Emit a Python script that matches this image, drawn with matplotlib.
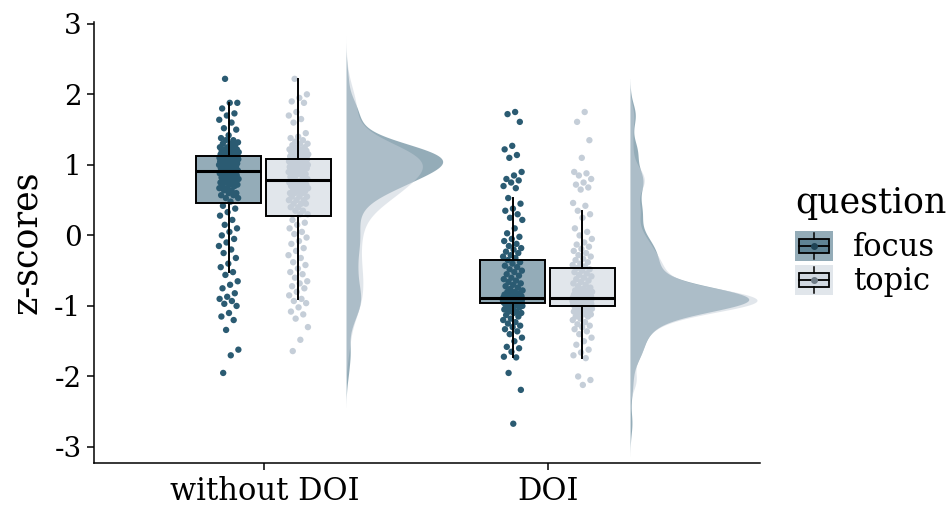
import numpy as np
import matplotlib
matplotlib.use("Agg")
import matplotlib.pyplot as plt
from matplotlib.patches import Rectangle
from matplotlib.lines import Line2D
from matplotlib.legend_handler import HandlerBase

# ---- data -------------------------------------------------------------
groups = ["without DOI", "DOI"]
questions = ["focus", "topic"]

without_doi_focus = [
    2.22, 1.88, 1.88, 1.80, 1.73, 1.70, 1.64, 1.60, 1.52, 1.50, 1.42, 1.38,
    1.35, 1.35, 1.32, 1.30, 1.30, 1.28, 1.25, 1.25, 1.25, 1.22, 1.22, 1.22,
    1.20, 1.20, 1.20, 1.18, 1.18, 1.18, 1.15, 1.15, 1.15, 1.15, 1.15,
    1.12, 1.12, 1.12, 1.12, 1.10, 1.10, 1.10, 1.10, 1.10, 1.08, 1.08, 1.08,
    1.08, 1.08, 1.05, 1.05, 1.05, 1.05, 1.05, 1.02, 1.02, 1.02, 1.02, 1.00,
    1.00, 1.00, 1.00, 0.97, 0.97, 0.97, 0.95, 0.95, 0.95, 0.92, 0.92,
    0.90, 0.90, 0.90, 0.88, 0.88, 0.88, 0.85, 0.85, 0.85, 0.82, 0.82, 0.82,
    0.80, 0.80, 0.80, 0.77, 0.77, 0.75, 0.75, 0.75, 0.72, 0.72, 0.70, 0.70,
    0.67, 0.67, 0.64, 0.64, 0.60, 0.60, 0.57, 0.57, 0.53, 0.53, 0.48,
    0.42, 0.38, 0.33, 0.28, 0.22, 0.15, 0.10, 0.05, 0.00, -0.05, -0.10,
    -0.15, -0.20, -0.25, -0.32, -0.40, -0.45, -0.52, -0.56, -0.65, -0.70,
    -0.75, -0.82, -0.87, -0.90, -0.93, -0.97, -1.00, -1.10, -1.15, -1.20,
    -1.34, -1.62, -1.70, -1.95,
]

without_doi_topic = [
    2.22, 2.00, 1.95, 1.90, 1.88, 1.75, 1.70, 1.65, 1.60, 1.45, 1.40, 1.38,
    1.35, 1.33, 1.30, 1.30, 1.28, 1.25, 1.25, 1.22, 1.22, 1.20, 1.20, 1.20,
    1.18, 1.18, 1.18, 1.15, 1.15, 1.15, 1.12, 1.12, 1.12, 1.10, 1.10,
    1.08, 1.08, 1.08, 1.05, 1.05, 1.05, 1.05, 1.02, 1.02, 1.02, 1.02, 1.00,
    1.00, 1.00, 1.00, 0.97, 0.97, 0.97, 0.97, 0.95, 0.95, 0.95, 0.92, 0.92,
    0.92, 0.90, 0.90, 0.90, 0.87, 0.87, 0.87, 0.83, 0.83, 0.80, 0.80,
    0.77, 0.77, 0.75, 0.75, 0.75, 0.72, 0.72, 0.72, 0.70, 0.70, 0.70, 0.67,
    0.67, 0.67, 0.63, 0.63, 0.63, 0.60, 0.60, 0.60, 0.55, 0.55, 0.55, 0.50,
    0.50, 0.50, 0.45, 0.45, 0.45, 0.40, 0.40, 0.35, 0.35, 0.30, 0.30,
    0.22, 0.18, 0.15, 0.10, 0.05, 0.02, -0.03, -0.08, -0.12, -0.18, -0.22,
    -0.28, -0.32, -0.38, -0.42, -0.47, -0.52, -0.55, -0.60, -0.65, -0.68,
    -0.72, -0.75, -0.80, -0.85, -0.90, -0.93, -0.96, -1.02, -1.08, -1.12,
    -1.18, -1.30, -1.48, -1.64,
]

doi_focus = [
    1.75, 1.72, 1.61, 1.27, 1.22, 1.14, 1.10, 0.90, 0.85, 0.80, 0.78, 0.75,
    0.70, 0.67, 0.53, 0.45, 0.38, 0.35, 0.30, 0.25, 0.22, 0.10, 0.03, -0.02,
    -0.05, -0.08, -0.12, -0.15, -0.18, -0.20, -0.23, -0.25, -0.28, -0.30,
    -0.32,
    -0.35, -0.38, -0.40, -0.43, -0.45, -0.48, -0.50, -0.52, -0.55, -0.57,
    -0.60, -0.62, -0.64, -0.66, -0.68, -0.70, -0.72, -0.74, -0.76, -0.78,
    -0.80, -0.80, -0.82, -0.82, -0.84, -0.84, -0.84, -0.86, -0.86, -0.86,
    -0.87, -0.88, -0.88, -0.88, -0.88,
    -0.89, -0.89, -0.89, -0.89, -0.89, -0.90, -0.90, -0.90, -0.90, -0.90,
    -0.90, -0.91, -0.91, -0.91, -0.91, -0.91, -0.91, -0.92, -0.92, -0.92,
    -0.92, -0.92, -0.92, -0.93, -0.93, -0.93, -0.93, -0.93, -0.95, -0.95,
    -0.95, -0.95, -0.96, -0.96, -0.96,
    -0.98, -0.98, -0.98, -1.00, -1.00, -1.00, -1.02, -1.02, -1.05, -1.05,
    -1.08, -1.08, -1.10, -1.10, -1.13, -1.15, -1.18, -1.20, -1.23, -1.25,
    -1.28, -1.30, -1.33, -1.36, -1.40, -1.45, -1.50, -1.58, -1.60, -1.65,
    -1.72, -1.73, -1.95, -2.19, -2.67,
]

doi_topic = [
    1.75, 1.61, 1.35, 1.10, 0.90, 0.88, 0.85, 0.80, 0.75, 0.72, 0.68, 0.65,
    0.46, 0.42, 0.35, 0.30, 0.25, 0.10, 0.05, 0.00, -0.05, -0.10, -0.13,
    -0.16, -0.19, -0.22, -0.25, -0.28, -0.30, -0.33, -0.35, -0.38, -0.40,
    -0.42, -0.44,
    -0.46, -0.48, -0.50, -0.52, -0.54, -0.56, -0.58, -0.60, -0.62, -0.64,
    -0.66, -0.68, -0.70, -0.72, -0.74, -0.76, -0.78, -0.78, -0.79, -0.80,
    -0.80, -0.82, -0.82, -0.82, -0.84, -0.84, -0.84, -0.86, -0.86, -0.86,
    -0.86, -0.88, -0.88, -0.88, -0.88,
    -0.89, -0.89, -0.89, -0.89, -0.90, -0.90, -0.90, -0.90, -0.90, -0.92,
    -0.92, -0.92, -0.92, -0.92, -0.93, -0.93, -0.93, -0.93, -0.93, -0.95,
    -0.95, -0.95, -0.95, -0.95, -0.97, -0.97, -0.97, -0.97, -0.98, -0.98,
    -0.98, -0.98, -1.00, -1.00, -1.00,
    -1.02, -1.02, -1.02, -1.04, -1.04, -1.04, -1.06, -1.06, -1.08, -1.08,
    -1.10, -1.10, -1.12, -1.12, -1.15, -1.15, -1.18, -1.20, -1.23, -1.26,
    -1.28, -1.30, -1.33, -1.36, -1.40, -1.45, -1.50, -1.55, -1.62, -1.66,
    -1.70, -1.74, -2.00, -2.05, -2.12,
]

scores = {
    ("without DOI", "focus"): without_doi_focus,
    ("without DOI", "topic"): without_doi_topic,
    ("DOI", "focus"): doi_focus,
    ("DOI", "topic"): doi_topic,
}

point_colors = {"focus": "#2b5b72", "topic": "#c5ced8"}
fill_alpha = 0.5

# ---- layout -----------------------------------------------------------
FONT = ["DejaVu Serif"]
plt.rcParams["font.family"] = FONT
plt.rcParams["font.size"] = 20

fig = plt.figure(figsize=(9.51, 5.16), dpi=100)
ax = fig.add_axes([0.0988, 0.1027, 0.7004, 0.8552])

dodge = {"focus": -0.125, "topic": 0.12}
box_width = 0.23
jitter_width = 0.035
violin_start = 0.29
violin_max_width = 0.447


def nrd0(x):
    x = np.asarray(x)
    sd = x.std(ddof=1)
    iqr = np.subtract(*np.percentile(x, [75, 25]))
    lo = min(sd, iqr / 1.34)
    return 0.9 * lo * len(x) ** -0.2


def kde(x, grid, bw):
    x = np.asarray(x)[:, None]
    z = (grid[None, :] - x) / bw
    return np.exp(-0.5 * z ** 2).sum(axis=0) / (len(x) * bw * np.sqrt(2 * np.pi))


# densities for the half violins, scaled against the overall peak
densities = {}
for key, vals in scores.items():
    bw = nrd0(vals)
    grid = np.linspace(min(vals) - 3 * bw, max(vals) + 3 * bw, 400)
    densities[key] = (grid, kde(vals, grid, bw))
peak = max(d.max() for _, d in densities.values())

for gi, g in enumerate(groups, start=1):
    for q in questions:
        grid, dens = densities[(g, q)]
        x0 = gi + violin_start
        ax.fill_betweenx(grid, x0, x0 + dens / peak * violin_max_width,
                         facecolor=point_colors[q], alpha=fill_alpha,
                         edgecolor="none", zorder=1)

for gi, g in enumerate(groups, start=1):
    for q in questions:
        vals = np.asarray(scores[(g, q)])
        pos = gi + dodge[q]
        # box fill underneath the points
        ax.boxplot([vals], positions=[pos], widths=box_width, whis=1.5,
                   patch_artist=True, showfliers=False, showcaps=False,
                   manage_ticks=False,
                   boxprops=dict(facecolor=point_colors[q], alpha=fill_alpha,
                                 edgecolor="none"),
                   whiskerprops=dict(linewidth=0), medianprops=dict(linewidth=0),
                   zorder=2)
        # jittered raw scores
        n = len(vals)
        offs = ((np.arange(n) * 0.6180339887 + 0.31 * gi) % 1.0 - 0.5) * 2 * jitter_width
        ax.scatter(pos + offs, vals, s=21, color=point_colors[q],
                   edgecolors="none", zorder=3)
        # box outline, whiskers and median on top
        ax.boxplot([vals], positions=[pos], widths=box_width, whis=1.5,
                   patch_artist=True, showfliers=False, showcaps=False,
                   manage_ticks=False,
                   boxprops=dict(facecolor="none", edgecolor="black", linewidth=1.4),
                   whiskerprops=dict(color="black", linewidth=1.4),
                   medianprops=dict(color="black", linewidth=2.2),
                   zorder=4)

ax.set_xlim(0.40, 2.746)
ax.set_ylim(-3.227, 3.03)
ax.set_xticks([1, 2])
ax.set_xticklabels(groups)
ax.set_yticks([-3, -2, -1, 0, 1, 2, 3])
ax.set_yticklabels(["-3", "-2", "-1", "0", "1", "2", "3"])
ax.set_ylabel("z-scores", fontsize=25, labelpad=7)
for side in ("top", "right"):
    ax.spines[side].set_visible(False)
for side in ("left", "bottom"):
    ax.spines[side].set_linewidth(1.1)
ax.tick_params(axis="both", length=5, width=1.1, colors="black", pad=4)
ax.tick_params(axis="x", labelsize=22)
ax.tick_params(axis="y", labelsize=20)


# ---- legend -----------------------------------------------------------
class BoxKey(HandlerBase):
    def __init__(self, color, dot):
        super().__init__()
        self.color = color
        self.dot = dot

    def create_artists(self, legend, orig_handle, xdescent, ydescent,
                       width, height, fontsize, trans):
        x0, y0 = -xdescent, -ydescent
        bg = Rectangle((x0, y0), width, height, facecolor=self.color,
                       alpha=fill_alpha, edgecolor="none", transform=trans)
        cx, cy = x0 + width / 2, y0 + height / 2
        bw, bh = width * 0.8, height * 0.46
        box_face = Rectangle((cx - bw / 2, cy - bh / 2), bw, bh,
                             facecolor=self.color, alpha=fill_alpha,
                             edgecolor="none", transform=trans)
        box_edge = Rectangle((cx - bw / 2, cy - bh / 2), bw, bh,
                             facecolor="none", edgecolor="black",
                             linewidth=1.3, transform=trans)
        med = Line2D([cx - bw / 2, cx + bw / 2], [cy, cy], color="black",
                     linewidth=1.3, transform=trans)
        wt = Line2D([cx, cx], [cy + bh / 2, y0 + height * 0.93], color="black",
                    linewidth=1.1, transform=trans)
        wb = Line2D([cx, cx], [y0 + height * 0.07, cy - bh / 2], color="black",
                    linewidth=1.1, transform=trans)
        dot = Line2D([cx], [cy], marker="o", markersize=4, color=self.dot,
                     linestyle="none", transform=trans)
        return [bg, box_face, box_edge, med, wt, wb, dot]


fig.text(0.836, 0.587, "question", fontsize=25, ha="left", va="baseline")

h_focus = Rectangle((0, 0), 1, 1)
h_topic = Rectangle((0, 0), 1, 1)
leg = fig.legend([h_focus, h_topic], questions,
                 handler_map={h_focus: BoxKey(point_colors["focus"], "#1f4456"),
                              h_topic: BoxKey(point_colors["topic"], "#6f7b86")},
                 loc="upper left", bbox_to_anchor=(0.836, 0.552), frameon=False,
                 fontsize=22, handlelength=1.25, handleheight=1.13,
                 handletextpad=0.65, labelspacing=0.05,
                 borderaxespad=0.0, borderpad=0.0)

fig.savefig("out.png", dpi=100)
